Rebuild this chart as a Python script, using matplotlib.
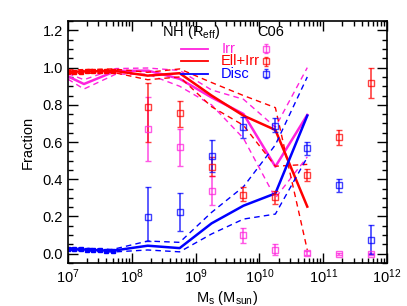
import matplotlib
matplotlib.use("Agg")
import matplotlib.pyplot as plt
import numpy as np
from matplotlib.ticker import MultipleLocator, LogLocator, NullFormatter, FormatStrFormatter

plt.rcParams['font.family'] = ['Liberation Sans', 'DejaVu Sans']

PINK = '#ff22dd'
RED = '#ff0000'
BLUE = '#0000ff'

# Model (NH) lines: log10 mass positions
logm_low = [7.0, 7.1, 7.2, 7.3, 7.4, 7.5, 7.6, 7.7]
logm_bins = [8.25, 8.75, 9.25, 9.75, 10.25, 10.75]

# Irr
irr_x = [7.0, 7.25, 7.75, 8.25, 8.75, 9.25, 9.75, 10.25, 10.75]
irr_mid = [0.953, 0.912, 0.982, 0.984, 0.940, 0.840, 0.751, 0.468, 0.746]
irr_hi = [0.968, 0.935, 0.995, 0.998, 0.985, 0.880, 0.830, 0.680, 1.000]
irr_lo = [0.938, 0.885, 0.965, 0.965, 0.900, 0.800, 0.620, 0.300, 0.520]

# Ell+Irr
ell_low_mid = [0.978, 0.978, 0.979, 0.980, 0.980, 0.981, 0.982, 0.984]
ell_mid = [0.957, 0.970, 0.850, 0.742, 0.665, 0.253]
ell_low_hi = [0.988, 0.988, 0.989, 0.990, 0.990, 0.991, 0.992, 0.993]
ell_hi = [0.975, 0.993, 0.920, 0.850, 0.785, 0.020]
ell_low_lo = [0.968, 0.968, 0.969, 0.970, 0.970, 0.971, 0.972, 0.975]
ell_lo = [0.935, 0.950, 0.790, 0.690, 0.470, 0.480]

# Disc
disc_low_mid = [0.025, 0.024, 0.023, 0.022, 0.020, 0.018, 0.017, 0.016]
disc_mid = [0.043, 0.030, 0.163, 0.258, 0.324, 0.742]
disc_low_hi = [0.032, 0.031, 0.030, 0.029, 0.027, 0.025, 0.024, 0.023]
disc_hi = [0.068, 0.061, 0.222, 0.360, 0.585, 0.950]
disc_low_lo = [0.018, 0.017, 0.016, 0.015, 0.013, 0.011, 0.010, 0.009]
disc_lo = [0.020, 0.010, 0.106, 0.186, 0.213, 0.518]

# C06 observational points
c06_x = [8.25, 8.75, 9.25, 9.75, 10.25, 10.75, 11.25, 11.75]
c06_ell = [0.787, 0.754, 0.468, 0.317, 0.303, 0.423, 0.625, 0.916]
c06_ell_lo = [0.600, 0.680, 0.420, 0.281, 0.267, 0.389, 0.586, 0.835]
c06_ell_hi = [0.916, 0.823, 0.520, 0.357, 0.339, 0.455, 0.665, 1.000]
c06_irr = [0.670, 0.572, 0.339, 0.100, 0.021, 0.002, 0.000, 0.000]
c06_irr_lo = [0.496, 0.473, 0.260, 0.055, -0.005, -0.008, -0.005, -0.005]
c06_irr_hi = [0.840, 0.670, 0.420, 0.138, 0.052, 0.015, 0.005, 0.005]
c06_disc = [0.199, 0.222, 0.523, 0.679, 0.688, 0.566, 0.369, 0.074]
c06_disc_lo = [0.070, 0.124, 0.440, 0.622, 0.652, 0.532, 0.333, 0.000]
c06_disc_hi = [0.360, 0.324, 0.610, 0.733, 0.730, 0.599, 0.400, 0.154]

fig = plt.figure(figsize=(4.07, 3.06), dpi=100)
ax = fig.add_axes([0.167, 0.1405, 0.784, 0.7905])

def p(v):
    return 10 ** np.asarray(v, dtype=float)

full_x = logm_low + logm_bins
DASH = (0, (4, 3))

# Irr lines
ax.plot(p(irr_x), irr_mid, color=PINK, lw=1.8)
ax.plot(p(irr_x), irr_hi, color=PINK, lw=1.0, ls=DASH)
ax.plot(p(irr_x), irr_lo, color=PINK, lw=1.0, ls=DASH)

# Ell+Irr lines
ax.plot(p(full_x), ell_low_mid + ell_mid, color=RED, lw=1.8)
ax.plot(p(logm_low), ell_low_mid, color=RED, ls='none', marker='s', ms=3)
ax.plot(p(full_x), ell_low_hi + ell_hi, color=RED, lw=1.0, ls=DASH)
ax.plot(p(full_x), ell_low_lo + ell_lo, color=RED, lw=1.0, ls=DASH)

# Disc lines
ax.plot(p(full_x), disc_low_mid + disc_mid, color=BLUE, lw=1.8)
ax.plot(p(logm_low), disc_low_mid, color=BLUE, ls='none', marker='s', ms=3)
ax.plot(p(full_x), disc_low_hi + disc_hi, color=BLUE, lw=1.0, ls=DASH)
ax.plot(p(full_x), disc_low_lo + disc_lo, color=BLUE, lw=1.0, ls=DASH)

# C06 points
def c06(vals, lo, hi, col):
    vals = np.asarray(vals); lo = np.asarray(lo); hi = np.asarray(hi)
    ax.errorbar(p(c06_x), vals, yerr=[vals - lo, hi - vals], fmt='s', mfc='none',
                mec=col, ecolor=col, ms=5, mew=1.0, elinewidth=1.2, capsize=2,
                capthick=1.0, alpha=0.75)

c06(c06_irr, c06_irr_lo, c06_irr_hi, PINK)
c06(c06_ell, c06_ell_lo, c06_ell_hi, RED)
c06(c06_disc, c06_disc_lo, c06_disc_hi, BLUE)

ax.set_xscale('log')
ax.set_xlim(1e7, 1e12)
ax.set_ylim(-0.05, 1.25)
ax.yaxis.set_major_locator(MultipleLocator(0.2))
ax.yaxis.set_minor_locator(MultipleLocator(0.05))
ax.xaxis.set_major_locator(LogLocator(base=10, numticks=10))
ax.xaxis.set_minor_locator(LogLocator(base=10, subs=np.arange(2, 10), numticks=20))
ax.xaxis.set_minor_formatter(NullFormatter())
ax.yaxis.set_major_formatter(FormatStrFormatter('%.1f'))
ax.tick_params(which='both', direction='in', top=True, right=True, labelsize=10.5, width=1.0)
ax.tick_params(which='major', length=7)
ax.tick_params(which='minor', length=3.5)
for s in ax.spines.values():
    s.set_linewidth(1.2)

ax.set_xlabel('M$_\\mathregular{s}$ (M$_\\mathregular{sun}$)', fontsize=10.5, labelpad=2)
ax.set_ylabel('Fraction', fontsize=10.5, labelpad=6)

# Legend (manual)
ax.text(0.385, 0.955, 'NH (R$_\\mathregular{eff}$)', transform=ax.transAxes, fontsize=10.5,
        ha='center', va='center')
ax.text(0.635, 0.955, 'C06', transform=ax.transAxes, fontsize=10.5, ha='center', va='center')
labels = ['Irr', 'Ell+Irr', 'Disc']
cols = [PINK, RED, BLUE]
ys = [0.886, 0.834, 0.782]
for lab, col, yy in zip(labels, cols, ys):
    ax.plot([0.355, 0.438], [yy, yy], transform=ax.transAxes, color=col, lw=1.3)
    ax.text(0.48, yy, lab, transform=ax.transAxes, color=col, fontsize=10.5, ha='left', va='center')
    ax.errorbar([0.62], [yy], yerr=[[0.018], [0.018]], transform=ax.transAxes, fmt='s', mfc='none',
                mec=col, ecolor=col, ms=4, mew=1.0, elinewidth=1.0, capsize=1.5, alpha=0.75)

fig.savefig('out.png', dpi=100)
